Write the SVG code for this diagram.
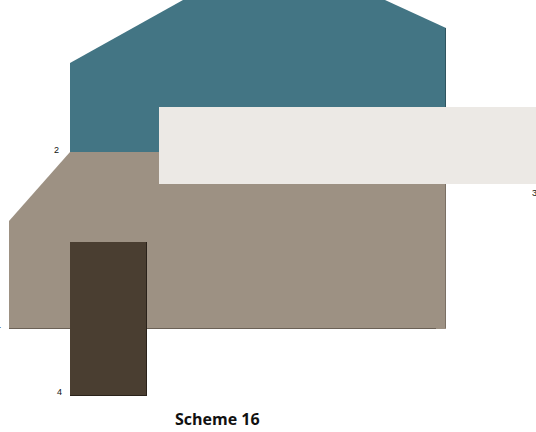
<svg xmlns="http://www.w3.org/2000/svg" width="536" height="432" viewBox="0 0 536 432">
  <style>
    .lbl { font-family: "Liberation Sans", Arial, sans-serif; font-size: 9px; fill: #111; }
    .title { font-family: "Open Sans", "Liberation Sans", sans-serif; font-size: 16px; font-weight: bold; fill: #111; }
  </style>
  <rect width="536" height="432" fill="#ffffff"/>
  <g id="teal">
    <polygon points="70,63 183,0 385,0 446,28 446,153 70,153" fill="#437584"/>
    <line x1="445.5" y1="28" x2="445.5" y2="107" stroke="#2f5560" stroke-width="1"/>
  </g>
  <g id="taupe">
    <polygon points="70,152 446,152 446,329 9,329 9,221" fill="#9d9183"/>
    <line x1="9" y1="328.5" x2="436" y2="328.5" stroke="#6b6156" stroke-width="1.2"/>
    <line x1="445.5" y1="184" x2="445.5" y2="328" stroke="#7b7064" stroke-width="1"/>
  </g>
  <g id="light">
    <rect x="159" y="107" width="377" height="77" fill="#ece9e5"/>
  </g>
  <g id="door">
    <rect x="70" y="242" width="77" height="154" fill="#4a3e31"/>
    <line x1="146.5" y1="242" x2="146.5" y2="396" stroke="#2a221a" stroke-width="1"/>
    <line x1="70" y1="395.5" x2="147" y2="395.5" stroke="#2a221a" stroke-width="1"/>
  </g>
  <g id="labels">
    <text class="lbl" x="54" y="153">2</text>
    <text class="lbl" x="532" y="196">3</text>
    <text class="lbl" x="-4" y="328">1</text>
    <text class="lbl" x="57" y="395">4</text>
    <text class="title" x="175" y="425">Scheme 16</text>
  </g>
</svg>
